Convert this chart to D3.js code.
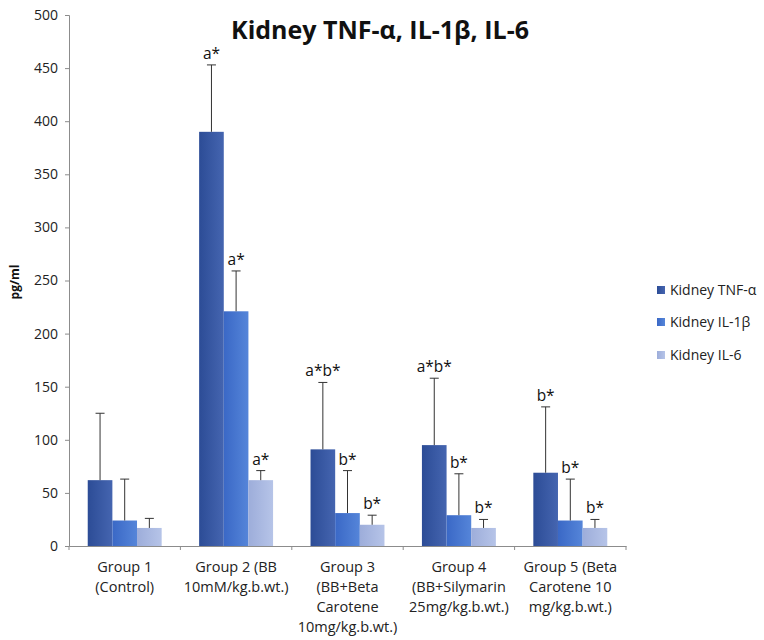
<!DOCTYPE html>
<html><head><meta charset="utf-8">
<script src="https://cdn.jsdelivr.net/npm/d3@7"></script>
<style>body{margin:0;background:#fff;} svg{display:block;}</style>
</head><body>
<script>
const groups = ["Group 1 (Control)", "Group 2 (BB 10mM/kg.b.wt.)", "Group 3 (BB+Beta Carotene 10mg/kg.b.wt.)", "Group 4 (BB+Silymarin 25mg/kg.b.wt.)", "Group 5 (Beta Carotene 10 mg/kg.b.wt.)"];
const groupLines = [["Group 1","(Control)"],["Group 2 (BB","10mM/kg.b.wt.)"],["Group 3","(BB+Beta","Carotene","10mg/kg.b.wt.)"],["Group 4","(BB+Silymarin","25mg/kg.b.wt.)"],["Group 5 (Beta","Carotene 10","mg/kg.b.wt.)"]];
const seriesNames = ["Kidney TNF-α", "Kidney IL-1β", "Kidney IL-6"];
const tnf = [62, 390, 91, 95, 69];
const il1b = [24, 221, 31, 29, 24];
const il6 = [17, 62, 20, 17, 17];
const tnfErr = [63, 63, 63, 63, 62];
const il1bErr = [39, 38, 40, 39, 39];
const il6Err = [9, 9, 9, 8, 8];
const tnfSig = ["", "a*", "a*b*", "a*b*", "b*"];
const il1bSig = ["", "a*", "b*", "b*", "b*"];
const il6Sig = ["", "a*", "b*", "b*", "b*"];
const yTicks = [0,50,100,150,200,250,300,350,400,450,500];

const values = [tnf, il1b, il6];
const errs = [tnfErr, il1bErr, il6Err];
const sigs = [tnfSig, il1bSig, il6Sig];
const colors = [["#2c4c96","#4565b0"],["#3a68c6","#5585d9"],["#9dadda","#b6c4e8"]];

const W = 764, H = 640;
const svg = d3.select("body").append("svg").attr("width", W).attr("height", H);
const defs = svg.append("defs");
colors.forEach((c,i)=>{
  const g = defs.append("linearGradient").attr("id","g"+i).attr("x1","0").attr("x2","1").attr("y1","0").attr("y2","0");
  g.append("stop").attr("offset","0").attr("stop-color",c[0]);
  g.append("stop").attr("offset","1").attr("stop-color",c[1]);
});

const font = "'Open Sans', sans-serif";
const x0 = d3.scaleBand().domain(groups).range([69, 626]).paddingInner(0).paddingOuter(0);
const x1 = d3.scaleBand().domain([0,1,2]).range([0, x0.bandwidth()]).paddingOuter(0.76).paddingInner(0);
const y = d3.scaleLinear().domain([0, 500]).range([546, 15]);

// y axis
const yAxis = svg.append("g").attr("transform","translate(69,0)")
  .call(d3.axisLeft(y).tickValues(yTicks).tickSize(4).tickPadding(7));
yAxis.select(".domain").attr("stroke","#8c8c8c");
yAxis.selectAll(".tick line").attr("stroke","#8c8c8c");
yAxis.selectAll(".tick text").attr("font-family",font).attr("font-size",14).attr("fill","#222");

// x axis
const xAxis = svg.append("g").attr("transform","translate(0,546)")
  .call(d3.axisBottom(x0).tickSize(0).tickFormat(""));
xAxis.select(".domain").attr("stroke","#8c8c8c");
const bounds = groups.map(g=>x0(g)).concat([x0.range()[1]]);
svg.append("g").selectAll("line").data(bounds).join("line")
  .attr("x1",d=>d).attr("x2",d=>d).attr("y1",546).attr("y2",550).attr("stroke","#8c8c8c");

// x labels
groups.forEach((g,i)=>{
  const t = svg.append("text").attr("x", x0(g)+x0.bandwidth()/2).attr("y", 572)
    .attr("text-anchor","middle").attr("font-family",font).attr("font-size",14.5).attr("fill","#222");
  groupLines[i].forEach((ln,j)=>{
    t.append("tspan").attr("x", x0(g)+x0.bandwidth()/2).attr("dy", j===0?0:20).text(ln);
  });
});

// bars
values.forEach((vals,s)=>{
  const gg = svg.append("g");
  groups.forEach((g,i)=>{
    const bx = x0(g)+x1(s), bw = x1.bandwidth(), cx = bx+bw/2;
    gg.append("rect").attr("x",bx).attr("y",y(vals[i])).attr("width",bw).attr("height",y(0)-y(vals[i]))
      .attr("fill","url(#g"+s+")");
    const top = y(vals[i]+errs[s][i]);
    gg.append("line").attr("x1",cx).attr("x2",cx).attr("y1",y(vals[i])).attr("y2",top).attr("stroke","#333").attr("stroke-width",1);
    gg.append("line").attr("x1",cx-4.5).attr("x2",cx+4.5).attr("y1",top).attr("y2",top).attr("stroke","#333").attr("stroke-width",1);
    if (sigs[s][i]) {
      gg.append("text").attr("x",cx).attr("y",top-6).attr("text-anchor","middle")
        .attr("font-family",font).attr("font-size",15.5).attr("fill","#111").text(sigs[s][i]);
    }
  });
});

// title
svg.append("text").attr("x",380).attr("y",39).attr("text-anchor","middle")
  .attr("font-family",font).attr("font-weight","bold").attr("font-size",25).attr("fill","#111")
  .text("Kidney TNF-α, IL-1β, IL-6");

// y label
svg.append("text").attr("transform","translate(19,282) rotate(-90)").attr("text-anchor","middle")
  .attr("font-family",font).attr("font-weight","bold").attr("font-size",12).attr("fill","#111").text("pg/ml");

// legend
const legY = [290, 322, 355];
seriesNames.forEach((n,i)=>{
  svg.append("rect").attr("x",657).attr("y",legY[i]-4).attr("width",8).attr("height",8).attr("fill","url(#g"+i+")");
  svg.append("text").attr("x",670).attr("y",legY[i]+5).attr("font-family",font).attr("font-size",14).attr("fill","#222").text(n);
});
</script>
</body></html>
